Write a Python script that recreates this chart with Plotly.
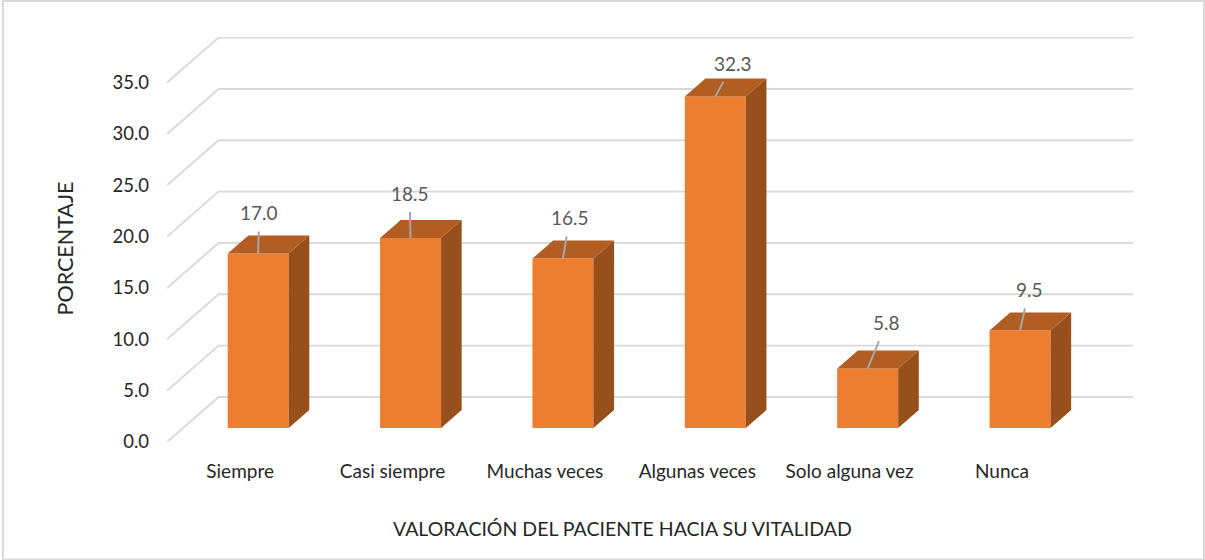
import plotly.graph_objects as go

categories = ["Siempre", "Casi siempre", "Muchas veces", "Algunas veces", "Solo alguna vez", "Nunca"]
values = [17.0, 18.5, 16.5, 32.3, 5.8, 9.5]
y_ticks = [0, 5, 10, 15, 20, 25, 30, 35]
label_dx = [1, -1, 7, 18, 19, 9]
label_dy = [-41, -45, -41, -33, -46, -41]

FONT = "Lato"
W, H = 1205, 560
L, R, T, B = 166.7, 1133.0, 37.0, 441.7
PX_CAT = 152.42
PX_VAL = 10.26
DX = 51.6 / PX_CAT
DY = 45.0 / PX_VAL
XMAX = (R - L) / PX_CAT
YMAX = (B - T) / PX_VAL
BAR_W = 61.0 / PX_CAT
BAR_SHIFT = -1.0 / PX_CAT
D_FRONT, D_BACK = 0.31, 0.71
GRID, FRONT, TOP, SIDE = "#d9d9d9", "#ed7d31", "#b25d21", "#97501c"
TEXT = "#262626"

fig = go.Figure()

for v in y_ticks:
    fig.add_trace(go.Scatter(
        x=[0, DX, XMAX], y=[v, v + DY, v + DY], mode="lines",
        line=dict(color=GRID, width=1.9), hoverinfo="skip", showlegend=False))


def poly(xs, ys, color):
    fig.add_trace(go.Scatter(
        x=xs + xs[:1], y=ys + ys[:1], mode="lines", fill="toself", fillcolor=color,
        line=dict(width=0, color=color), hoverinfo="skip", showlegend=False))


annotations = []
for i, v in enumerate(values):
    x0 = i + 0.5 + BAR_SHIFT - BAR_W / 2
    x1 = x0 + BAR_W
    fx, fy = D_FRONT * DX, D_FRONT * DY
    bx, by = D_BACK * DX, D_BACK * DY
    poly([x0 + fx, x1 + fx, x1 + fx, x0 + fx], [fy, fy, v + fy, v + fy], FRONT)
    poly([x0 + fx, x1 + fx, x1 + bx, x0 + bx], [v + fy, v + fy, v + by, v + by], TOP)
    poly([x1 + fx, x1 + bx, x1 + bx, x1 + fx], [fy, by, v + by, v + fy], SIDE)
    annotations.append(dict(
        x=i + 0.5 + BAR_SHIFT + fx, y=v + fy, xref="x", yref="y", text=f"{v:.1f}",
        showarrow=True, arrowhead=0, arrowwidth=2, arrowcolor="#a6a6a6",
        startstandoff=6, ax=label_dx[i], ay=label_dy[i],
        font=dict(family=FONT, size=19, color="#595959")))

# paper coordinates for the two titles and the frame come from pixels
px = lambda x: (x - L) / (R - L)
py = lambda y: (B - y) / (B - T)

annotations += [
    dict(x=px(622), y=py(528), xref="paper", yref="paper", xanchor="center", yanchor="middle",
         text="VALORACIÓN DEL PACIENTE HACIA SU VITALIDAD",
         showarrow=False, font=dict(family=FONT, size=19.5, color=TEXT)),
    dict(x=px(65), y=py(248), xref="paper", yref="paper", xanchor="center", yanchor="middle",
         text="PORCENTAJE", textangle=-90,
         showarrow=False, font=dict(family=FONT, size=21.5, color=TEXT)),
]

fig.update_layout(
    width=W, height=H, autosize=False,
    margin=dict(l=L, r=W - R, t=T, b=H - B, pad=0),
    paper_bgcolor="white", plot_bgcolor="white",
    font=dict(family=FONT, size=18, color=TEXT),
    showlegend=False,
    annotations=annotations,
    shapes=[dict(type="rect", xref="paper", yref="paper",
                 x0=px(2.5), x1=px(1204), y0=py(1), y1=py(559),
                 line=dict(color=GRID, width=2), layer="below")],
    xaxis=dict(range=[0, XMAX], showgrid=False, zeroline=False, showline=False,
               tickmode="array", tickvals=[i + 0.48 for i in range(len(categories))],
               ticktext=categories, ticks="", ticklabelstandoff=16,
               tickfont=dict(family=FONT, size=19, color=TEXT), fixedrange=True),
    yaxis=dict(range=[0, YMAX], showgrid=False, zeroline=False, showline=False,
               tickmode="array", tickvals=y_ticks, tickformat=".1f", ticks="",
               ticklabelstandoff=17,
               tickfont=dict(family=FONT, size=18.5, color=TEXT), fixedrange=True),
)

fig.write_html("out.html", config={"displayModeBar": False},
               post_script="document.body.style.margin='0';document.body.style.overflow='hidden';")
